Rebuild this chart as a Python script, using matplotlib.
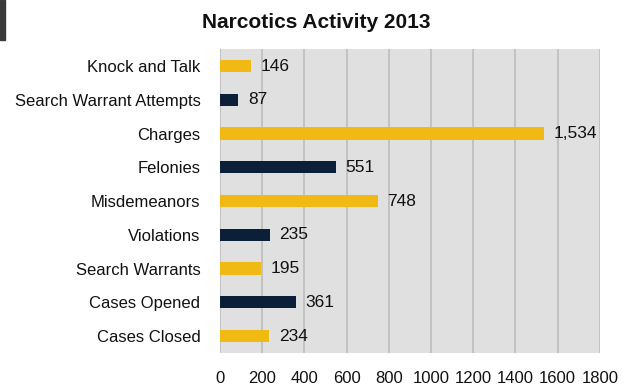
import matplotlib
matplotlib.use('Agg')
import matplotlib.pyplot as plt
from matplotlib.patches import Rectangle

# data, top to bottom
categories = ['Knock and Talk', 'Search Warrant Attempts', 'Charges', 'Felonies',
              'Misdemeanors', 'Violations', 'Search Warrants', 'Cases Opened', 'Cases Closed']
values = [146, 87, 1534, 551, 748, 235, 195, 361, 234]
xticks = [0, 200, 400, 600, 800, 1000, 1200, 1400, 1600, 1800]

yellow = '#F0B914'
navy = '#0B1F38'
colors = [yellow if i % 2 == 0 else navy for i in range(len(values))]

plt.rcParams['font.family'] = ['Liberation Sans', 'DejaVu Sans']

fig = plt.figure(figsize=(6.32, 3.87), dpi=100)
ax = fig.add_axes([0.348, 0.088, 0.601, 0.785])
ax.set_facecolor('#E0E0E0')

ypos = list(range(len(values)))
ax.barh(ypos, values, height=0.36, color=colors, zorder=3)
for y, v in zip(ypos, values):
    ax.text(v + 45, y, f'{v:,}', va='center', ha='left', fontsize=12.5, color='#111111', zorder=4)

ax.set_yticks(ypos)
ax.set_yticklabels(categories, fontsize=12, color='#111111')
ax.set_ylim(len(values) - 0.5, -0.5)
ax.set_xlim(0, 1800)
ax.set_xticks(xticks)
ax.set_xticklabels([str(t) for t in xticks], fontsize=12, color='#111111')
ax.tick_params(axis='x', length=0, pad=13)
ax.tick_params(axis='y', length=0, pad=14)
ax.grid(axis='x', color='#BDBDBD', linewidth=1.2, zorder=1)
for s in ax.spines.values():
    s.set_visible(False)

fig.text(0.5, 0.942, 'Narcotics Activity 2013', ha='center', va='center',
         fontsize=15, fontweight='bold', color='#111111')
fig.patches.append(Rectangle((0, 1 - 40 / 387), 5 / 632, 40 / 387,
                             transform=fig.transFigure, color='#3A3A3A', figure=fig))

fig.savefig('out.png', dpi=100)
